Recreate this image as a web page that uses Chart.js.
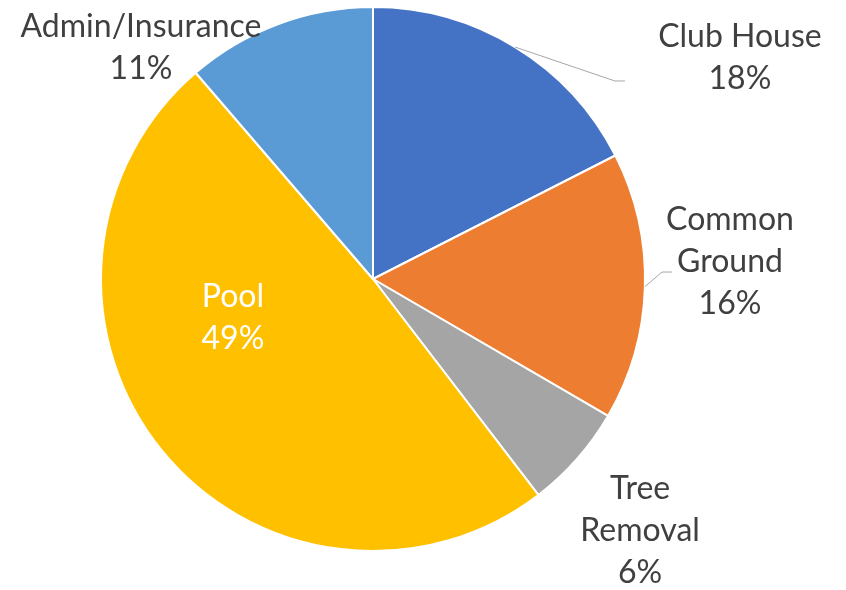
<!DOCTYPE html>
<html>
<head>
<meta charset="utf-8">
<script src="https://cdn.jsdelivr.net/npm/chart.js@4/dist/chart.umd.min.js"></script>
<style>
  body { margin: 0; background: #fff; }
</style>
</head>
<body>
<canvas id="pie" width="846" height="590"></canvas>
<script>
// Budget split
const categories = ['Club House', 'Common\nGround', 'Tree\nRemoval', 'Pool', 'Admin/Insurance'];
const shares = [17.5, 15.9, 6.2, 49.1, 11.3];
const sliceColors = ['#4472C4', '#ED7D31', '#A5A5A5', '#FFC000', '#5B9BD5'];

// where each label sits, relative to the pie centre, in radius units
const labelSpots = [[1.349, -0.853], [1.3125, -0.180], [0.982, 0.809], [-0.515, 0.103], [-0.853, -0.890]];
const labelInk = ['#404040', '#404040', '#404040', '#ffffff', '#404040'];
// leader line elbows (px from label anchor), null = no line
const leaders = [[[-125, 34], [-115, 34]], [[-68, 42], [-58, 42]], null, null, null];

const LINE_H = 42;

const pieLabels = {
    id: 'pieLabels',
    afterDatasetsDraw(chart) {
        const ctx = chart.ctx;
        const meta = chart.getDatasetMeta(0);
        const total = shares.reduce((a, b) => a + b, 0);
        ctx.save();
        meta.data.forEach((arc, i) => {
            const { x, y, startAngle, endAngle, outerRadius } = arc.getProps(['x', 'y', 'startAngle', 'endAngle', 'outerRadius'], true);
            const ax = x + labelSpots[i][0] * outerRadius;
            const ay = y + labelSpots[i][1] * outerRadius;

            if (leaders[i]) {
                const mid = (startAngle + endAngle) / 2;
                ctx.beginPath();
                ctx.strokeStyle = '#A6A6A6';
                ctx.lineWidth = 1;
                ctx.moveTo(x + Math.cos(mid) * outerRadius, y + Math.sin(mid) * outerRadius);
                ctx.lineTo(ax + leaders[i][0][0], ay + leaders[i][0][1]);
                ctx.lineTo(ax + leaders[i][1][0], ay + leaders[i][1][1]);
                ctx.stroke();
            }

            const lines = categories[i].split('\n');
            lines.push(Math.round(shares[i] / total * 100) + '%');
            ctx.font = '32px Lato';
            ctx.fillStyle = labelInk[i];
            ctx.textAlign = 'center';
            ctx.textBaseline = 'alphabetic';
            lines.forEach((t, k) => ctx.fillText(t, ax, ay + k * LINE_H));
        });
        ctx.restore();
    }
};

new Chart(document.getElementById('pie'), {
    type: 'pie',
    data: {
        labels: categories,
        datasets: [{
            data: shares,
            backgroundColor: sliceColors,
            borderColor: '#ffffff',
            borderWidth: 2
        }]
    },
    options: {
        responsive: false,
        animation: false,
        layout: { padding: { top: 6, bottom: 38, left: 100, right: 200 } },
        plugins: {
            legend: { display: false },
            tooltip: { enabled: false }
        }
    },
    plugins: [pieLabels]
});
</script>
</body>
</html>
